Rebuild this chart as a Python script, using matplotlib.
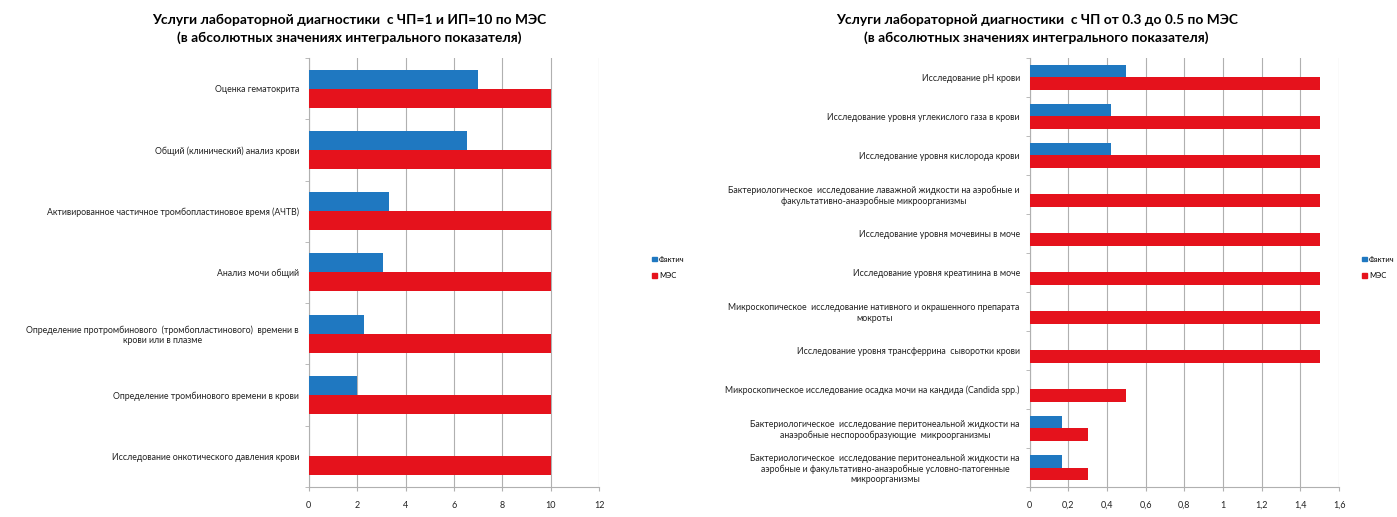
import numpy as np
import matplotlib.pyplot as plt
from matplotlib.patches import Patch

# left chart: ЧП=1, ИП=10
left_labels = [
    'Оценка гематокрита',
    'Общий (клинический) анализ крови',
    'Активированное частичное тромбопластиновое время (АЧТВ)',
    'Анализ мочи общий',
    'Определение протромбинового  (тромбопластинового)  времени в\nкрови или в плазме',
    'Определение тромбинового времени в крови',
    'Исследование онкотического давления крови',
]
left_fact = [7.0, 6.55, 3.3, 3.05, 2.3, 2.0, 0]
left_mes = [10, 10, 10, 10, 10, 10, 10]
left_ticks = [0, 2, 4, 6, 8, 10, 12]
left_ticklabels = ['0', '2', '4', '6', '8', '10', '12']

# right chart: ЧП от 0.3 до 0.5
right_labels = [
    'Исследование pH крови',
    'Исследование уровня углекислого газа в крови',
    'Исследование уровня кислорода крови',
    'Бактериологическое  исследование лаважной жидкости на аэробные и\nфакультативно-анаэробные микроорганизмы',
    'Исследование уровня мочевины в моче',
    'Исследование уровня креатинина в моче',
    'Микроскопическое  исследование нативного и окрашенного препарата\nмокроты',
    'Исследование уровня трансферрина  сыворотки крови',
    'Микроскопическое исследование осадка мочи на кандида (Candida spp.)',
    'Бактериологическое  исследование перитонеальной жидкости на\nанаэробные неспорообразующие  микроорганизмы',
    'Бактериологическое  исследование перитонеальной жидкости на\nаэробные и факультативно-анаэробные условно-патогенные\nмикроорганизмы',
]
right_fact = [0.5, 0.42, 0.42, 0, 0, 0, 0, 0, 0, 0.17, 0.17]
right_mes = [1.5, 1.5, 1.5, 1.5, 1.5, 1.5, 1.5, 1.5, 0.5, 0.3, 0.3]
right_ticks = [0, 0.2, 0.4, 0.6, 0.8, 1.0, 1.2, 1.4, 1.6]
right_ticklabels = ['0', '0,2', '0,4', '0,6', '0,8', '1', '1,2', '1,4', '1,6']

BLUE = '#1f78c1'
RED = '#e5121c'
GRID = '#b0b0b0'

plt.rcParams['font.family'] = ['Lato', 'DejaVu Sans']

fig = plt.figure(figsize=(13.97, 5.17), dpi=100)


def draw(ax, labels, fact, mes, ticks, ticklabels, xmax):
    y = np.arange(len(labels))
    h = 0.31
    ax.barh(y - h / 2, fact, height=h, color=BLUE, zorder=3)
    ax.barh(y + h / 2, mes, height=h, color=RED, zorder=3)
    ax.set_ylim(len(labels) - 0.5, -0.5)
    ax.set_xlim(0, xmax)
    ax.set_yticks(y)
    ax.set_yticklabels(labels, fontsize=6.3, ha='right', multialignment='center',
                       color='#222222')
    ax.tick_params(axis='y', which='major', length=0, pad=7)
    ax.set_yticks(np.arange(len(labels) + 1) - 0.5, minor=True)
    ax.tick_params(axis='y', which='minor', length=3, color=GRID)
    ax.set_xticks(ticks)
    ax.set_xticklabels(ticklabels, fontsize=6.5, color='#222222')
    ax.tick_params(axis='x', length=3, color=GRID, pad=7)
    ax.grid(axis='x', color=GRID, linewidth=0.8, zorder=0)
    for s in ['top', 'right']:
        ax.spines[s].set_visible(False)
    for s in ['left', 'bottom']:
        ax.spines[s].set_color(GRID)


axl = fig.add_axes([0.221, 0.058, 0.208, 0.83])
draw(axl, left_labels, left_fact, left_mes, left_ticks, left_ticklabels, 12)

axr = fig.add_axes([0.737, 0.058, 0.2215, 0.83])
draw(axr, right_labels, right_fact, right_mes, right_ticks, right_ticklabels, 1.6)

fig.text(0.25, 0.944, 'Услуги лабораторной диагностики  с ЧП=1 и ИП=10 по МЭС\n(в абсолютных значениях интегрального показателя)',
         ha='center', va='center', fontsize=9.9, fontweight='bold', linespacing=1.5)
fig.text(0.742, 0.944, 'Услуги лабораторной диагностики  с ЧП от 0.3 до 0.5 по МЭС\n(в абсолютных значениях интегрального показателя)',
         ha='center', va='center', fontsize=9.9, fontweight='bold', linespacing=1.5)

handles = [Patch(color=BLUE, label='Фактич'), Patch(color=RED, label='МЭС')]
for x in [0.462, 0.97]:
    fig.legend(handles=handles, loc='center left', bbox_to_anchor=(x, 0.483),
               frameon=False, fontsize=5.5, handlelength=0.6, handleheight=0.6,
               handletextpad=0.3, labelspacing=1.2)

fig.savefig('out.png', dpi=100)
